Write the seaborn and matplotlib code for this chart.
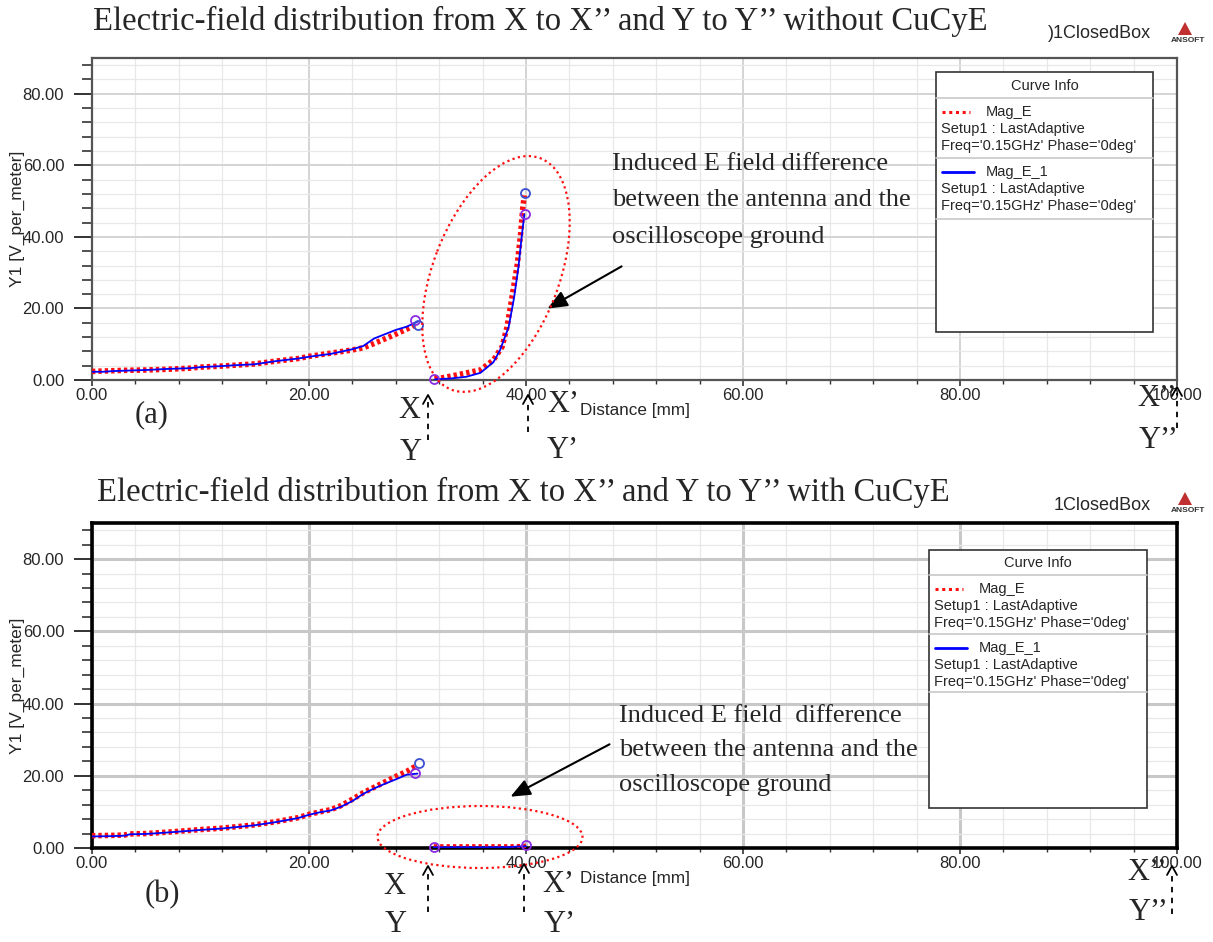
import numpy as np
import pandas as pd
import matplotlib
matplotlib.use("Agg")
import matplotlib.pyplot as plt
import matplotlib.transforms as mt
import seaborn as sns
from matplotlib.patches import Ellipse, Rectangle, Polygon
from matplotlib.lines import Line2D
from matplotlib.ticker import MultipleLocator, FormatStrFormatter

# ---------------- data ----------------
# panel (a) without CuCyE
a_seg1_x = [0, 1, 2, 3, 5, 7, 9, 10, 12, 13, 15, 17, 19, 20, 22, 24, 25, 26, 27, 28, 29, 30]
a_seg1_blue = [2.3, 2.3, 2.5, 2.6, 2.8, 3.1, 3.3, 3.6, 3.9, 4.1, 4.4, 5.3, 6.0, 6.5, 7.3, 8.6, 9.5, 11.6, 12.8, 14.0, 14.9, 16.3]
a_seg1_red_x = [0, 1, 2, 3, 5, 7, 9, 10, 12, 13, 15, 17, 19, 20, 22, 24, 25, 26, 27, 28, 29, 29.8]
a_seg1_red = [2.4, 2.5, 2.6, 2.7, 2.8, 3.0, 3.3, 3.6, 3.9, 4.1, 4.5, 5.3, 6.0, 6.6, 7.5, 8.4, 9.0, 10.2, 11.5, 12.8, 14.2, 15.5]
a_seg2_x_blue = [31.6, 33.0, 34.5, 35.8, 37.0, 37.6, 38.4, 38.9, 39.3, 39.6, 39.85]
a_seg2_blue = [0.2, 0.4, 0.9, 2.0, 5.0, 8.3, 14.8, 23.0, 31.5, 40.0, 46.3]
a_seg2_x_red = [31.6, 33.6, 35.8, 37.0, 37.8, 38.25, 38.7, 39.2, 39.5, 39.7, 39.85]
a_seg2_red = [0.2, 1.4, 2.8, 5.6, 9.3, 14.8, 23.0, 32.4, 40.7, 48.0, 51.6]
a_markers_x = [29.8, 30.0, 39.9, 39.9, 31.5]
a_markers_y = [16.7, 15.5, 46.3, 52.3, 0.3]
a_markers_c = ["#8a2be2", "#3a50d0", "#8a2be2", "#3a50d0", "#8a2be2"]

# panel (b) with CuCyE
b_seg1_x = [0, 2, 3, 3.5, 5, 7, 10, 12, 15, 17, 19, 20, 21, 22, 23, 24, 25, 26, 27, 28, 29, 30]
b_seg1_blue = [3.2, 3.3, 3.4, 3.8, 3.9, 4.3, 5.0, 5.4, 6.3, 7.2, 8.3, 9.2, 9.9, 10.4, 11.5, 13.0, 15.0, 16.5, 17.8, 19.0, 20.3, 20.6]
b_seg1_red_x = [0, 2, 3, 3.5, 5, 7, 10, 12, 15, 17, 19, 20, 21, 22, 23, 24, 25, 26, 27, 28, 29, 29.8]
b_seg1_red = [3.4, 3.5, 3.6, 3.9, 4.0, 4.4, 5.1, 5.5, 6.4, 7.3, 8.4, 9.3, 10.0, 10.6, 11.8, 13.5, 15.3, 16.8, 18.3, 19.8, 21.2, 22.6]
b_seg2_x = [31.5, 33, 35, 37, 38.5, 39.2, 40]
b_seg2_blue = [0.2, 0.2, 0.2, 0.2, 0.25, 0.4, 0.5]
b_seg2_red = [0.3, 0.3, 0.3, 0.3, 0.3, 0.35, 0.45]
b_markers_x = [29.8, 30.1, 40.0, 31.5]
b_markers_y = [20.9, 23.5, 0.8, 0.2]
b_markers_c = ["#8a2be2", "#3a50d0", "#8a2be2", "#8a2be2"]

x_ticks = [0, 20, 40, 60, 80, 100]
y_ticks = [0, 20, 40, 60, 80]

title_a = "Electric-field distribution from X to X\u2019\u2019 and Y to Y\u2019\u2019 without CuCyE"
title_b = "Electric-field distribution from X to X\u2019\u2019 and Y to Y\u2019\u2019 with CuCyE"
annot_a = ["Induced E field difference", "between the antenna and the", "oscilloscope ground"]
annot_b = ["Induced E field  difference", "between the antenna and the", "oscilloscope ground"]
legend_lines = [("Mag_E", "Setup1 : LastAdaptive", "Freq='0.15GHz' Phase='0deg'"),
                ("Mag_E_1", "Setup1 : LastAdaptive", "Freq='0.15GHz' Phase='0deg'")]

# ---------------- style ----------------
sns.set_style("white")
plt.rcParams["font.family"] = ["Liberation Sans", "DejaVu Sans"]

W, H = 1213, 942
fig = plt.figure(figsize=(W / 100, H / 100), dpi=100)


def fx(x):
    return x / W


def fy(y):
    return 1 - y / H


SERIF = ["Liberation Serif", "DejaVu Serif"]
RED = "#ff1010"
BLUE = "#0000ff"


def make_axes(top, bottom, heavy):
    ax = fig.add_axes([fx(92), fy(bottom), fx(1177) - fx(92), fy(top) - fy(bottom)])
    ax.set_xlim(0, 100)
    ax.set_ylim(0, 90)
    ax.xaxis.set_minor_locator(MultipleLocator(4))
    ax.yaxis.set_minor_locator(MultipleLocator(4))
    ax.set_xticks(x_ticks)
    ax.set_yticks(y_ticks)
    ax.xaxis.set_major_formatter(FormatStrFormatter("%.2f"))
    ax.yaxis.set_major_formatter(FormatStrFormatter("%.2f"))
    ax.grid(True, which="minor", color="#e8e8e8", lw=0.9)
    ax.grid(True, which="major", color="#c8c8c8" if heavy else "#d4d4d4", lw=2.2 if heavy else 1.4)
    ax.set_axisbelow(True)
    fc = "black" if heavy else "#555555"
    for s in ax.spines.values():
        s.set_color(fc)
        s.set_linewidth(2.6 if heavy else 1.6)
    ax.tick_params(axis="y", which="major", direction="out", length=13, width=1.4, color="#333333",
                   labelsize=12, pad=7, left=True)
    ax.tick_params(axis="y", which="minor", direction="out", length=7, width=1.2, color="#333333", left=True)
    ax.tick_params(axis="x", which="major", direction="out", length=4, width=1.2, color="#333333",
                   labelsize=12, pad=2, bottom=True)
    ax.tick_params(axis="x", which="minor", direction="out", length=3, width=1.0, color="#333333", bottom=True)
    return ax


def set_labels(ax):
    ax.set_ylabel("Y1 [V_per_meter]", fontsize=12.5)
    ax.yaxis.set_label_coords(-0.062, 0.5)
    ax.set_xlabel("Distance [mm]", fontsize=12.3)
    ax.xaxis.set_label_coords(0.5, -0.072)


def draw_line(ax, xs, ys, color, dotted):
    df = pd.DataFrame({"x": xs, "y": ys})
    if dotted:
        sns.lineplot(data=df, x="x", y="y", ax=ax, color=color, lw=4.0, sort=False, estimator=None,
                     linestyle=(0, (0.6, 0.55)), dash_capstyle="butt", zorder=3)
    else:
        sns.lineplot(data=df, x="x", y="y", ax=ax, color=color, lw=1.3, sort=False, estimator=None, zorder=4)


def draw_markers(ax, xs, ys, cs):
    for x, y, c in zip(xs, ys, cs):
        ax.plot([x], [y], marker="o", ms=6.5, mfc="none", mec=c, mew=1.3, clip_on=False, zorder=5)


# ---------- panel (a) ----------
ax1 = make_axes(58, 380, heavy=False)
draw_line(ax1, a_seg1_red_x, a_seg1_red, RED, True)
draw_line(ax1, a_seg1_x, a_seg1_blue, BLUE, False)
draw_line(ax1, a_seg2_x_red, a_seg2_red, RED, True)
draw_line(ax1, a_seg2_x_blue, a_seg2_blue, BLUE, False)
draw_markers(ax1, a_markers_x, a_markers_y, a_markers_c)
set_labels(ax1)

# ---------- panel (b) ----------
ax2 = make_axes(523, 848, heavy=True)
draw_line(ax2, b_seg1_red_x, b_seg1_red, RED, True)
draw_line(ax2, b_seg1_x, b_seg1_blue, BLUE, False)
draw_line(ax2, b_seg2_x, b_seg2_red, RED, True)
draw_line(ax2, b_seg2_x, b_seg2_blue, BLUE, False)
draw_markers(ax2, b_markers_x, b_markers_y, b_markers_c)
set_labels(ax2)

# ---------- titles ----------
fig.text(fx(93), fy(21), title_a, family=SERIF, fontsize=23.5, va="center", ha="left")
fig.text(fx(97), fy(492), title_b, family=SERIF, fontsize=23.5, va="center", ha="left")

# ClosedBox labels + Ansoft logos
fig.text(fx(1151), fy(34), ")1ClosedBox", fontsize=13, ha="right", va="center")
fig.text(fx(1151), fy(506), "1ClosedBox", fontsize=13, ha="right", va="center")
for ly in (35, 505):
    tri = Polygon([(fx(1178), fy(ly)), (fx(1192), fy(ly)), (fx(1185), fy(ly - 13))], closed=True,
                  facecolor="#c03030", edgecolor="none", transform=fig.transFigure)
    fig.add_artist(tri)
    fig.text(fx(1188), fy(ly + 6), "ANSOFT", fontsize=6, ha="center", va="center", weight="bold", color="#333333")


# ---------- legend boxes ----------
def legend_box(x0, y0, x1, y1, rows):
    fig.add_artist(Rectangle((fx(x0), fy(y1)), fx(x1) - fx(x0), fy(y0) - fy(y1), transform=fig.transFigure,
                             facecolor="white", edgecolor="#333333", lw=1.2, zorder=10))
    fig.text(fx((x0 + x1) / 2), fy(rows[0]), "Curve Info", fontsize=10.5, ha="center", va="center", zorder=11)
    for yy in rows[1:]:
        fig.add_artist(Line2D([fx(x0), fx(x1)], [fy(yy), fy(yy)], transform=fig.transFigure,
                              color="#c8c8c8", lw=1.2, zorder=11))
    ys = [rows[1] + 14, rows[2] + 14]
    for i, (name, s1, s2) in enumerate(legend_lines):
        yb = ys[i]
        if i == 0:
            fig.add_artist(Line2D([fx(x0 + 6), fx(x0 + 34)], [fy(yb), fy(yb)], transform=fig.transFigure,
                                  color=RED, lw=2.2, linestyle=(0, (1, 1.2)), zorder=12))
        else:
            fig.add_artist(Line2D([fx(x0 + 6), fx(x0 + 38)], [fy(yb), fy(yb)], transform=fig.transFigure,
                                  color=BLUE, lw=2.0, zorder=12))
        fig.text(fx(x0 + 50), fy(yb), name, fontsize=10.5, ha="left", va="center", zorder=12)
        fig.text(fx(x0 + 5), fy(yb + 17), s1, fontsize=10.5, ha="left", va="center", zorder=12)
        fig.text(fx(x0 + 5), fy(yb + 34), s2, fontsize=10.5, ha="left", va="center", zorder=12)


legend_box(936, 72, 1153, 332, [86, 98, 158, 219])
legend_box(929, 550, 1147, 808, [563, 575, 634, 692])

# ---------- ellipses ----------
pt = mt.Affine2D().scale(1, -1).translate(0, H).scale(1 / 100) + fig.dpi_scale_trans
fig.add_artist(Ellipse((496, 274), 248, 126, angle=-69, transform=pt, fill=False,
                       edgecolor=RED, lw=1.6, linestyle=(0, (1, 1.5)), zorder=6))
fig.add_artist(Ellipse((480, 837), 205, 62, angle=0, transform=pt, fill=False,
                       edgecolor=RED, lw=1.6, linestyle=(0, (1, 1.5)), zorder=6))


# ---------- annotation arrows ----------
def fpix(x, y):
    return (x, H - y)


ax1.annotate("", xy=fpix(545, 310), xycoords="figure pixels", xytext=fpix(624, 265), textcoords="figure pixels",
             arrowprops=dict(arrowstyle="-|>,head_length=1.2,head_width=0.5", color="black", lw=1.5))
ax2.annotate("", xy=fpix(508, 798), xycoords="figure pixels", xytext=fpix(612, 743), textcoords="figure pixels",
             arrowprops=dict(arrowstyle="-|>,head_length=1.2,head_width=0.5", color="black", lw=1.5))

for i, t in enumerate(annot_a):
    fig.text(fx(612), fy(164 + 36.5 * i), t, family=SERIF, fontsize=19, ha="left", va="center")
for i, t in enumerate(annot_b):
    fig.text(fx(619), fy(716 + 34.5 * i), t, family=SERIF, fontsize=19, ha="left", va="center")


# ---------- dashed position arrows and labels ----------
def dashed_arrow(x, ytip, ybot):
    fig.add_artist(Line2D([fx(x), fx(x)], [fy(ybot), fy(ytip + 6)], transform=fig.transFigure,
                          color="black", lw=1.3, linestyle=(0, (3, 3)), zorder=8))
    fig.add_artist(Line2D([fx(x - 5), fx(x), fx(x + 5)], [fy(ytip + 9), fy(ytip), fy(ytip + 9)],
                          transform=fig.transFigure, color="black", lw=1.3, zorder=8))


for x, yt, yb in [(428, 395, 440), (528, 395, 432), (1177, 387, 428),
                  (428, 866, 912), (524, 864, 912), (1172, 866, 914)]:
    dashed_arrow(x, yt, yb)


def lbl(x, y, s, ha="left"):
    fig.text(fx(x), fy(y), s, family=SERIF, fontsize=22, ha=ha, va="center")


lbl(398, 410, "X"); lbl(400, 452, "Y")
lbl(547, 405, "X\u2019"); lbl(547, 450, "Y\u2019")
lbl(1137, 398, "X\u2019\u2019"); lbl(1139, 440, "Y\u2019\u2019")
lbl(135, 415, "(a)")

lbl(383, 886, "X"); lbl(385, 925, "Y")
lbl(542, 884, "X\u2019"); lbl(544, 924, "Y\u2019")
lbl(1127, 873, "X\u2019\u2019"); lbl(1129, 913, "Y\u2019\u2019")
lbl(145, 895, "(b)")

fig.savefig("out.png", dpi=100)
